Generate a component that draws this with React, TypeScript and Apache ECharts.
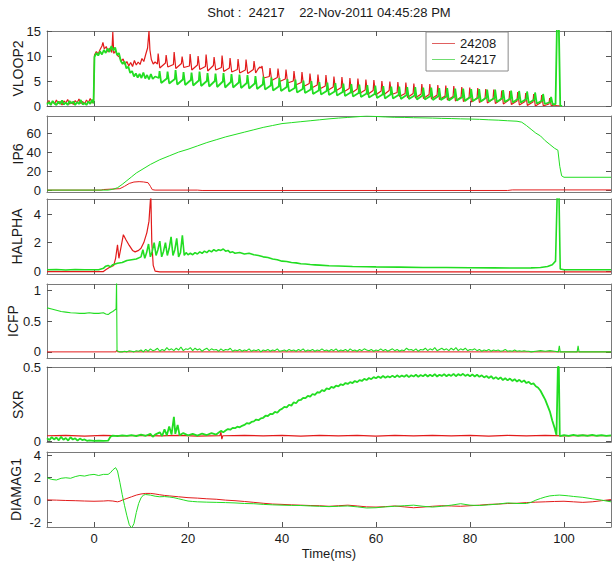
import React, { useEffect, useRef } from 'react';
import * as echarts from 'echarts';

// ---- shot labels and tick labels ----
const shots = ['24208', '24217'];
const timeTicks = [0, 20, 40, 60, 80, 100];
const vloopTicks = [0, 5, 10, 15];
const ip6Ticks = [0, 20, 40, 60];
const halphaTicks = [0, 2, 4];
const icfpTicks = [0, 0.5, 1];
const sxrTicks = [0, 0.5];
const diamagTicks = [-2, 0, 2, 4];

type Pt = [number, number];

// ---- VLOOP2 [time ms, V] ----
const vloop2Shot24208: Pt[] = [
  [-10,0.6],[-9.6,1.1],[-9.2,0.3],[-8.8,0.9],[-8.4,0.4],[-8,1.2],[-7.6,0.5],[-7.2,0.9],[-6.8,0.2],[-6.4,1.0],
  [-6,0.6],[-5.6,1.3],[-5.2,0.4],[-4.8,0.8],[-4.4,0.3],[-4,1.1],[-3.6,0.6],[-3.2,1.4],[-2.8,0.5],[-2.4,0.9],
  [-2,0.4],[-1.6,1.2],[-1.2,0.7],[-0.8,1.5],[-0.4,0.6],[-0.1,1.0],
  [0.1,10.2],[0.5,10.9],[0.9,10.4],[1.3,11.3],[1.7,12.0],[1.9,12.7],[2.2,11.4],[2.6,11.9],[3.0,10.8],[3.4,11.6],
  [3.8,10.7],[4.0,14.8],[4.2,10.5],[4.6,11.0],[5.0,10.1],[5.4,9.8],[5.8,9.0],[6.2,9.4],[6.6,8.3],[7.0,8.9],
  [7.4,8.0],[7.8,8.7],[8.2,7.9],[8.6,9.1],[9.0,8.2],[9.4,8.8],[9.8,8.3],[10.2,9.5],[10.6,8.9],[11.0,10.3],
  [11.4,11.6],[11.7,15.0],[11.9,11.2],[12.2,9.3],[12.6,8.4],[13.0,8.8],
  [13.5,8.4],[13.65,10.5],[14.0,7.6],[15.2,8.6],[15.35,10.2],[15.7,7.8],[16.9,8.3],[17.05,10.8],[17.4,7.5],
  [18.6,8.5],[18.75,9.9],[19.1,7.7],[20.3,8.0],[20.45,10.4],[20.8,7.2],[22.0,8.2],[22.15,10.0],[22.5,7.3],
  [23.7,7.9],[23.85,10.3],[24.2,7.0],[25.4,8.1],[25.55,9.8],[25.9,7.2],[27.1,7.7],[27.25,10.1],[27.6,6.9],
  [28.8,7.6],[28.95,9.6],[29.3,6.8],[30.5,7.3],[30.65,9.4],[31.0,6.6],[32.2,7.2],[32.35,9.3],[32.7,6.5],
  [33.9,7.3],[34.05,9.0],[34.4,6.6],[34.9,7.4],[35.3,7.8],[35.6,7.6],[35.75,8.0],[36.1,5.6],
  [37.3,5.9],[37.45,7.6],[37.8,5.1],[39.0,5.7],[39.15,7.5],[39.5,4.9],[40.7,5.4],[40.85,7.3],[41.2,4.6],
  [42.4,5.0],[42.55,7.0],[42.9,4.2],[44.1,4.7],[44.25,6.8],[44.6,3.9],[45.8,4.5],[45.95,6.5],[46.3,3.6],
  [47.5,4.2],[47.65,6.3],[48.0,3.4],[49.2,4.0],[49.35,6.2],[49.7,3.1],[50.9,3.8],[51.05,5.9],[51.4,3.0],
  [52.6,3.7],[52.75,5.8],[53.1,2.8],[54.3,3.5],[54.45,5.6],[54.8,2.6],[56.0,3.4],[56.15,5.5],[56.5,2.5],
  [57.7,3.2],[57.85,5.3],[58.2,2.3],[59.4,3.1],[59.55,5.2],[59.9,2.2],[61.1,3.0],[61.25,5.0],[61.6,2.2],
  [62.8,3.1],[62.95,4.9],[63.3,2.3],[64.5,2.7],[64.65,4.8],[65.0,1.9],[66.2,2.5],[66.35,4.7],[66.7,1.7],
  [67.9,2.5],[68.05,4.5],[68.4,1.6],[69.6,2.4],[69.75,4.4],[70.1,1.5],[71.3,2.3],[71.45,4.4],[71.8,1.4],
  [73.0,2.2],[73.15,4.2],[73.5,1.3],[74.7,2.0],[74.85,4.1],[75.2,1.2],[76.4,1.9],[76.55,4.0],[76.9,1.0],
  [78.1,1.8],[78.25,3.8],[78.6,0.9],[79.8,1.7],[79.95,3.7],[80.3,0.8],[81.5,1.6],[81.65,3.6],[82.0,0.7],
  [83.2,1.5],[83.35,3.4],[83.7,0.6],[84.9,1.4],[85.05,3.3],[85.4,0.5],[86.6,1.3],[86.75,3.1],[87.1,0.4],
  [88.3,1.2],[88.45,3.0],[88.8,0.3],[90.0,1.0],[90.15,2.8],[90.5,0.2],[91.7,0.9],[91.85,2.6],[92.2,0.1],
  [93.4,0.8],[93.55,2.4],[93.9,0.0],[95.1,0.7],[95.25,2.2],[95.6,0.0],[96.8,0.4],[96.95,1.6],[97.3,0.0],
  [97.8,0.2],[98.4,0.1],[99.2,0.0],
];
const vloop2Shot24217: Pt[] = [
  [-10,0.3],[-9.6,0.8],[-9.2,0.2],[-8.8,1.0],[-8.4,0.5],[-8,0.2],[-7.6,0.9],[-7.2,0.4],[-6.8,1.1],[-6.4,0.3],
  [-6,0.7],[-5.6,0.2],[-5.2,1.0],[-4.8,0.5],[-4.4,0.9],[-4,0.2],[-3.6,0.8],[-3.2,0.4],[-2.8,1.2],[-2.4,0.3],
  [-2,0.6],[-1.6,0.2],[-1.2,0.9],[-0.8,0.4],[-0.4,1.3],[-0.1,0.5],
  [0.1,9.8],[0.5,10.6],[0.9,10.1],[1.3,10.9],[1.7,10.3],[2.1,11.2],[2.5,10.6],[2.9,11.5],[3.3,10.8],[3.7,12.0],
  [4.1,11.1],[4.5,11.7],[4.9,10.2],[5.3,10.6],[5.7,9.0],[6.1,8.4],[6.5,8.9],[6.9,7.5],[7.3,7.9],[7.7,6.6],
  [8.1,7.0],[8.5,5.9],[8.9,6.5],[9.3,5.7],[9.7,6.4],[10.1,5.6],[10.5,6.7],[10.9,5.5],[11.3,6.2],[11.7,5.3],
  [12.1,6.4],[12.5,5.4],[13.0,5.9],
  [13.8,5.6],[13.95,7.0],[14.3,4.6],[15.5,5.5],[15.65,6.9],[16.0,4.5],[17.2,5.4],[17.35,7.2],[17.7,4.3],
  [18.9,5.3],[19.05,6.8],[19.4,4.2],[20.6,5.2],[20.75,6.7],[21.1,4.1],[22.3,5.1],[22.45,6.9],[22.8,4.0],
  [24.0,5.0],[24.15,6.6],[24.5,3.9],[25.7,5.0],[25.85,6.5],[26.2,3.8],[27.4,4.9],[27.55,6.6],[27.9,3.7],
  [29.1,4.8],[29.25,6.4],[29.6,3.7],[30.8,4.7],[30.95,6.3],[31.3,3.6],[32.5,4.6],[32.65,6.2],[33.0,3.5],
  [34.2,4.5],[34.35,6.0],[34.7,3.4],[35.9,4.3],[36.05,5.9],[36.4,3.3],[37.6,4.1],[37.75,5.7],[38.1,3.1],
  [39.3,3.9],[39.45,5.6],[39.8,3.0],[41.0,3.8],[41.15,5.4],[41.5,2.9],[42.7,3.6],[42.85,5.3],[43.2,2.7],
  [44.4,3.4],[44.55,5.1],[44.9,2.6],[46.1,3.3],[46.25,5.0],[46.6,2.4],[47.8,3.1],[47.95,4.8],[48.3,2.3],
  [49.5,3.0],[49.65,4.7],[50.0,2.2],[51.2,2.9],[51.35,4.6],[51.7,2.1],[52.9,2.8],[53.05,4.5],[53.4,2.0],
  [54.6,2.7],[54.75,4.4],[55.1,1.9],[56.3,2.6],[56.45,4.3],[56.8,1.8],[58.0,2.5],[58.15,4.2],[58.5,1.7],
  [59.7,2.4],[59.85,4.1],[60.2,1.6],[61.4,2.3],[61.55,4.0],[61.9,1.5],[63.1,2.3],[63.25,3.9],[63.6,1.5],
  [64.8,2.2],[64.95,3.9],[65.3,1.4],[66.5,2.2],[66.65,3.8],[67.0,1.4],[68.2,2.1],[68.35,3.8],[68.7,1.3],
  [69.9,2.1],[70.05,3.7],[70.4,1.3],[71.6,2.0],[71.75,3.7],[72.1,1.2],[73.3,2.0],[73.45,3.6],[73.8,1.2],
  [75.0,1.9],[75.15,3.6],[75.5,1.1],[76.7,1.9],[76.85,3.5],[77.2,1.1],[78.4,1.8],[78.55,3.5],[78.9,1.0],
  [80.1,1.8],[80.25,3.4],[80.6,1.0],[81.8,1.7],[81.95,3.4],[82.3,0.9],[83.5,1.7],[83.65,3.3],[84.0,0.9],
  [85.2,1.6],[85.35,3.3],[85.7,0.8],[86.9,1.6],[87.05,3.2],[87.4,0.8],[88.6,1.5],[88.75,3.1],[89.1,0.7],
  [90.3,1.5],[90.45,3.0],[90.8,0.7],[92.0,1.4],[92.15,2.9],[92.5,0.6],[93.7,1.3],[93.85,2.7],[94.2,0.5],
  [95.4,1.1],[95.55,2.4],[95.9,0.4],[97.1,0.8],[97.25,1.8],[97.6,0.3],
  [98.2,0.4],[98.5,16],[98.9,16],[99.2,0.1],[99.6,0],
];

// ---- IP6 [time ms, kA] ----
const ip6Shot24208: Pt[] = [
  [-10,0],[1.5,0],[2,0.6],[5.5,1.5],[6.5,4],[7.5,7],[8.5,8.5],[9.6,8.9],[10.5,8.6],[11.5,7.8],
  [12,4],[12.4,0.5],[13,0],[22,0],[23,-0.4],[88,-0.4],[89,0.2],[110,0.2],
];
const ip6Shot24217: Pt[] = [
  [-10,0],[3,0],[4,0.8],[5,2.5],[6,6],[7,10],[8,14],[9,18],[10,21],[12,27],[14,32],[16,36],[18,40],
  [20,43],[22,46.5],[24,50],[26,53],[28,56],[30,58.5],[32,61],[34,63.5],[36,66],[38,68],[40,70],
  [42,71],[44,72],[46,73],[48,74],[50,75],[52,75.8],[54,76.5],[56,77.2],[58,78],[60,77.5],[62,77],
  [64,76.6],[66,76.5],[68,76.2],[70,76],[72,75.8],[74,75.5],[76,75.3],[78,75],[80,74.8],[82,74.5],
  [84,74],[86,73.6],[88,73],[90,72.5],[91,71.5],[92,68],[93,64],[94,60],[95,57],[96,52],[97,48],
  [98,44],[98.7,42],[99.1,25],[99.5,15],[100,13.5],[110,13.5],
];

// ---- HALPHA [time ms, a.u.] ----
const halphaShot24208: Pt[] = [
  [-10,-0.03],[2,-0.03],[2.5,0.1],[3.5,0.3],[4.2,0.4],[4.6,0.9],[5.0,1.85],[5.3,0.9],[5.7,1.6],[6.25,2.55],
  [6.8,2.2],[7.5,1.8],[8.2,1.45],[8.75,1.35],[9.5,1.45],[10,1.6],[10.6,2.0],[11.25,2.7],[11.7,3.5],[12.0,5.0],
  [12.1,5.2],[12.3,2.0],[12.6,0.4],[13,0.0],[14,-0.05],[110,-0.05],
];
const halphaShot24217: Pt[] = [
  [-10,0.1],[-8,0.12],[-6,0.08],[-4,0.12],[-2,0.1],[0,0.1],[1,0.1],[2,0.2],[2.5,0.35],[3,0.4],[3.5,0.3],
  [4,0.45],[5,0.55],[6,0.6],[7,0.75],[8,0.8],[9,0.85],[10,1.0],[10.4,1.5],[10.8,0.9],[11.2,1.3],[11.6,1.9],
  [12.0,1.0],[12.4,1.4],[12.8,2.0],[13.2,1.1],[13.6,1.5],[14.0,2.1],[14.4,1.0],[14.8,1.4],[15.2,2.0],
  [15.6,1.1],[16.0,1.6],[16.4,2.4],[16.8,1.1],[17.2,1.5],[17.6,2.3],[18.0,1.0],[18.4,1.3],[18.8,2.5],
  [19.2,1.1],[19.6,1.3],[20,1.15],[20.5,1.25],[21,1.15],[21.5,1.3],[22,1.2],[22.5,1.35],[23,1.25],
  [23.5,1.4],[24,1.3],[24.5,1.45],[25,1.35],[25.5,1.5],[26,1.4],[26.5,1.5],[27,1.45],[27.5,1.55],[28,1.4],
  [28.5,1.45],[29,1.3],[29.5,1.35],[30,1.25],[31,1.3],[32,1.2],[33,1.25],[34,1.15],[35,1.1],[36,1.0],
  [37,0.95],[38,0.85],[39,0.8],[40,0.7],[41,0.68],[42,0.6],[43,0.58],[44,0.52],[45,0.5],[46,0.46],
  [47,0.44],[48,0.42],[50,0.38],[52,0.36],[55,0.33],[58,0.31],[60,0.3],[65,0.28],[70,0.26],[75,0.25],
  [80,0.24],[85,0.23],[90,0.22],[93,0.23],[95,0.26],[96.5,0.32],[97.5,0.45],[98.2,0.7],[98.6,6],[98.9,6],
  [99.2,0.15],[100,0.1],[110,0.1],
];

// ---- ICFP [time ms, a.u.] ----
const icfpShot24208: Pt[] = [[-10,0],[4.7,0],[4.8,0.03],[5,0],[110,0]];
const icfpShot24217Head: Pt[] = [
  [-10,0.72],[-9,0.7],[-8,0.68],[-7,0.66],[-6,0.65],[-5,0.64],[-4,0.635],[-3,0.63],[-2,0.63],[-1,0.64],
  [0,0.63],[1,0.63],[2,0.64],[2.5,0.62],[3,0.61],[3.5,0.64],[4,0.66],[4.5,0.69],[4.7,0.7],[4.8,1.15],
  [4.9,0.02],[5.5,0.0],
];
// fluctuation level sampled every 0.5 ms from 6 ms
const icfpShot24217Start = 6;
const icfpShot24217Step = 0.5;
const icfpShot24217Samples = [
  0.00,0.01,0.00,0.02,0.01,0.00,0.02,0.01,0.03,0.00,
  0.04,0.01,0.05,0.02,0.03,0.06,0.01,0.04,0.02,0.07,
  0.03,0.05,0.02,0.06,0.03,0.08,0.02,0.05,0.04,0.07,
  0.02,0.06,0.03,0.05,0.01,0.04,0.06,0.02,0.05,0.03,
  0.04,0.01,0.05,0.02,0.04,0.03,0.06,0.01,0.03,0.02,
  0.04,0.01,0.03,0.02,0.05,0.01,0.03,0.02,0.04,0.00,
  0.03,0.02,0.04,0.01,0.03,0.02,0.05,0.01,0.02,0.03,
  0.01,0.04,0.02,0.03,0.01,0.04,0.02,0.05,0.01,0.03,
  0.02,0.04,0.01,0.03,0.02,0.05,0.02,0.03,0.01,0.04,
  0.02,0.05,0.01,0.03,0.02,0.04,0.01,0.05,0.02,0.03,
  0.01,0.04,0.02,0.05,0.03,0.02,0.04,0.01,0.03,0.02,
  0.05,0.02,0.04,0.01,0.03,0.05,0.02,0.04,0.01,0.03,
  0.02,0.06,0.03,0.04,0.02,0.05,0.01,0.04,0.03,0.06,
  0.02,0.05,0.03,0.07,0.02,0.04,0.06,0.03,0.05,0.02,
  0.06,0.03,0.07,0.02,0.05,0.03,0.06,0.02,0.04,0.03,
  0.05,0.02,0.04,0.01,0.03,0.02,0.04,0.01,0.03,0.02,
  0.03,0.01,0.02,0.04,0.01,0.02,0.01,0.03,0.01,0.02,
  0.01,0.02,0.01,0.01,0.00,
];
const icfpShot24217Tail: Pt[] = [
  [94,0.01],[95,0.02],[96,0.01],[97,0.02],[98,0.01],[98.8,0.0],[99,0.1],[99.2,0.0],
  [102.8,0.0],[103,0.1],[103.2,0.0],[110,0.0],
];

// ---- SXR [time ms, a.u.] ----
const sxrShot24208: Pt[] = [
  [-10,0.037],[-6,0.04],[-2,0.035],[2,0.039],[6,0.036],[10,0.04],[14,0.036],[18,0.039],[22,0.035],
  [26.8,0.038],[27,0.062],[27.2,0.014],[27.4,0.037],[32,0.04],[36,0.036],[40,0.039],[44,0.035],
  [48,0.04],[52,0.036],[56,0.039],[60,0.035],[64,0.039],[68,0.036],[72,0.04],[76,0.036],[80,0.039],
  [84,0.035],[88,0.039],[92,0.036],[96,0.04],[100,0.036],[104,0.039],[110,0.037],
];
const sxrShot24217Head: Pt[] = [
  [-10,0.02],[-9.5,0.008],[-9,0.028],[-8.5,0.012],[-8,0.025],[-7.5,0.006],[-7,0.03],[-6.5,0.01],
  [-6,0.022],[-5.5,0.005],[-5,0.027],[-4.5,0.012],[-4,0.02],[-3.5,0.004],[-3,0.018],[-2.5,0.008],
  [-2,0.012],[-1.5,0.003],[-1,0.006],[0,0.003],[1,0.004],[2,0.002],[3,0.004],[3.5,0.03],[4,0.038],
  [5,0.034],[6,0.04],[7,0.036],[8,0.042],[9,0.035],[10,0.044],[11,0.037],[12,0.05],[12.5,0.03],
  [13,0.045],[14,0.06],[14.5,0.035],[15,0.08],[15.5,0.04],[16,0.1],[16.5,0.045],[17,0.165],[17.3,0.05],
  [17.8,0.11],[18.2,0.04],[19,0.055],[20,0.04],[21,0.05],[22,0.038],[23,0.052],[24,0.042],[25,0.055],
  [26,0.045],[27,0.07],[27.5,0.06],
];
// emission level sampled every 0.5 ms from 28 ms
const sxrShot24217Start = 28;
const sxrShot24217Step = 0.5;
const sxrShot24217Samples = [
  0.072,0.082,0.078,0.09,0.088,0.098,0.094,0.104,
  0.11,0.122,0.118,0.13,0.134,0.146,0.142,0.154,
  0.158,0.172,0.17,0.184,0.182,0.198,0.192,0.21,
  0.218,0.232,0.228,0.246,0.24,0.262,0.256,0.276,
  0.278,0.292,0.29,0.306,0.3,0.318,0.312,0.33,
  0.328,0.344,0.338,0.356,0.35,0.366,0.36,0.374,
  0.37,0.384,0.378,0.392,0.386,0.398,0.392,0.406,
  0.398,0.412,0.406,0.42,0.412,0.426,0.418,0.432,
  0.424,0.436,0.426,0.44,0.428,0.438,0.43,0.442,
  0.43,0.444,0.432,0.442,0.434,0.446,0.432,0.444,
  0.436,0.448,0.434,0.446,0.438,0.45,0.436,0.448,
  0.438,0.452,0.436,0.448,0.44,0.452,0.438,0.45,
  0.44,0.454,0.438,0.452,0.442,0.454,0.44,0.45,
  0.438,0.45,0.436,0.448,0.434,0.444,0.43,0.44,
  0.426,0.438,0.42,0.432,0.418,0.43,0.412,0.424,
  0.41,0.422,0.406,0.418,0.402,0.414,0.398,0.41,
  0.392,0.4,0.384,0.39,0.37,0.36,
];
const sxrShot24217Tail: Pt[] = [
  [95,0.34],[95.5,0.31],[96,0.28],[96.5,0.24],[97,0.2],[97.5,0.14],[98,0.09],[98.4,0.04],[98.7,0.5],
  [98.9,0.5],[99.1,0.035],[100,0.042],[101,0.036],[102,0.043],[103,0.037],[104,0.042],[105,0.036],
  [106,0.043],[107,0.037],[108,0.042],[109,0.036],[110,0.04],
];

// ---- DIAMAG1 [time ms, a.u.] ----
const diamagShot24208: Pt[] = [
  [-10,0.02],[-8,0.0],[-6,-0.03],[-4,-0.05],[-2,-0.08],[0,-0.1],[2,-0.08],[3,-0.05],[4,-0.08],[5,-0.15],
  [5.5,-0.1],[6,0.0],[7,0.15],[8,0.3],[9,0.45],[10,0.55],[11,0.6],[12,0.6],[13,0.55],[14,0.48],[15,0.42],
  [16,0.38],[18,0.3],[20,0.22],[22,0.18],[24,0.12],[26,0.08],[28,0.0],[30,-0.05],[32,-0.12],[34,-0.2],
  [36,-0.28],[38,-0.35],[40,-0.38],[42,-0.42],[44,-0.45],[46,-0.48],[48,-0.5],[50,-0.55],[52,-0.5],
  [54,-0.45],[56,-0.52],[58,-0.6],[60,-0.62],[62,-0.58],[64,-0.52],[66,-0.6],[68,-0.68],[70,-0.62],
  [72,-0.55],[74,-0.5],[76,-0.52],[78,-0.55],[80,-0.5],[82,-0.45],[84,-0.38],[86,-0.35],[88,-0.3],
  [90,-0.28],[92,-0.22],[94,-0.18],[96,-0.15],[98,-0.12],[100,-0.1],[102,-0.15],[104,-0.2],[106,-0.15],
  [108,-0.05],[110,0.05],
];
const diamagShot24217: Pt[] = [
  [-10,2.0],[-9,1.85],[-8,1.8],[-7,1.95],[-6,2.0],[-5,1.95],[-4,2.1],[-3,2.2],[-2,2.15],[-1,2.25],[0,2.3],
  [1,2.2],[2,2.3],[3,2.3],[3.5,2.45],[4,2.7],[4.6,2.9],[5,2.6],[5.5,1.6],[6,0.5],[6.5,-0.5],[7,-1.4],
  [7.5,-2.2],[8,-2.5],[8.5,-2.1],[9,-1.1],[9.5,-0.3],[10,0.2],[10.5,0.45],[11,0.5],[12,0.45],[13,0.35],
  [14,0.3],[15,0.32],[16,0.28],[17,0.22],[18,0.12],[19,0.02],[20,-0.08],[21,-0.12],[22,-0.15],[24,-0.18],
  [26,-0.2],[28,-0.22],[30,-0.25],[32,-0.3],[34,-0.32],[36,-0.38],[38,-0.42],[40,-0.45],[42,-0.47],
  [44,-0.48],[46,-0.52],[48,-0.55],[50,-0.58],[52,-0.55],[54,-0.52],[56,-0.6],[58,-0.7],[60,-0.68],
  [62,-0.6],[64,-0.55],[66,-0.5],[68,-0.45],[70,-0.55],[72,-0.62],[74,-0.55],[76,-0.45],[78,-0.32],
  [80,-0.45],[82,-0.48],[84,-0.42],[86,-0.35],[88,-0.25],[90,-0.3],[92,-0.3],[93,-0.2],[94,0.0],[95,0.15],
  [96,0.28],[97,0.38],[98,0.42],[99,0.45],[100,0.42],[101,0.38],[102,0.33],[104,0.25],[106,0.12],
  [108,0.0],[110,-0.15],
];

const sampled = (start: number, step: number, values: number[]): Pt[] =>
  values.map((v, i) => [start + i * step, v] as Pt);

const icfpShot24217: Pt[] = [
  ...icfpShot24217Head,
  ...sampled(icfpShot24217Start, icfpShot24217Step, icfpShot24217Samples),
  ...icfpShot24217Tail,
];
const sxrShot24217: Pt[] = [
  ...sxrShot24217Head,
  ...sampled(sxrShot24217Start, sxrShot24217Step, sxrShot24217Samples),
  ...sxrShot24217Tail,
];

// ---- layout ----
const FONT = '"Liberation Sans", Arial, Helvetica, sans-serif';
const RED = '#e21b1b';
const GREEN = '#22dd22';
const PLOT_LEFT = 47;
const PLOT_RIGHT = 3;
const BOX = '#7a7a7a';
const TEXT = '#1a1a1a';

const panels = [
  { label: 'VLOOP2', labelX: 18, top: 31, height: 75, min: 0, max: 15, ticks: vloopTicks, data: [vloop2Shot24208, vloop2Shot24217], widths: [1.2, 1.8] },
  { label: 'IP6', labelX: 18, top: 116, height: 76, min: -2, max: 78, ticks: ip6Ticks, data: [ip6Shot24208, ip6Shot24217], widths: [1, 1] },
  { label: 'HALPHA', labelX: 17, top: 199, height: 75, min: -0.2, max: 5.05, ticks: halphaTicks, data: [halphaShot24208, halphaShot24217], widths: [1.2, 1.6] },
  { label: 'ICFP', labelX: 13, top: 284, height: 74, min: -0.1, max: 1.11, ticks: icfpTicks, data: [icfpShot24208, icfpShot24217], widths: [1, 1.1] },
  { label: 'SXR', labelX: 18, top: 367, height: 75, min: -0.005, max: 0.5, ticks: sxrTicks, data: [sxrShot24208, sxrShot24217], widths: [1.2, 1.8] },
  { label: 'DIAMAG1', labelX: 16, top: 452, height: 75, min: -2.4, max: 4.3, ticks: diamagTicks, data: [diamagShot24208, diamagShot24217], widths: [1, 1] },
];

function buildOption() {
  const grid: any[] = [];
  const xAxis: any[] = [];
  const yAxis: any[] = [];
  const series: any[] = [];
  const graphic: any[] = [];
  const last = panels.length - 1;

  panels.forEach((p, i) => {
    grid.push({ left: PLOT_LEFT, right: PLOT_RIGHT, top: p.top, height: p.height, containLabel: false });
    const line = { show: true, onZero: false, lineStyle: { color: BOX, width: 1 } };
    const tick = (vals: number[]) => ({ show: true, inside: true, length: 5, customValues: vals, lineStyle: { color: '#555', width: 1 } });
    xAxis.push({
      type: 'value', gridIndex: i, position: 'bottom', min: -10, max: 110,
      axisLine: line, axisTick: tick(timeTicks), splitLine: { show: false },
      axisLabel: { show: i === last, customValues: timeTicks, margin: 5, fontSize: 13, fontFamily: FONT, color: TEXT },
    });
    xAxis.push({
      type: 'value', gridIndex: i, position: 'top', min: -10, max: 110,
      axisLine: line, axisTick: tick(timeTicks), splitLine: { show: false }, axisLabel: { show: false },
    });
    yAxis.push({
      type: 'value', gridIndex: i, position: 'left', min: p.min, max: p.max,
      axisLine: line, axisTick: tick(p.ticks), splitLine: { show: false },
      axisLabel: { customValues: p.ticks, margin: 6, fontSize: 13, fontFamily: FONT, color: TEXT },
    });
    yAxis.push({
      type: 'value', gridIndex: i, position: 'right', min: p.min, max: p.max,
      axisLine: line, axisTick: tick(p.ticks), splitLine: { show: false }, axisLabel: { show: false },
    });
    p.data.forEach((d, k) => {
      series.push({
        type: 'line', name: shots[k], xAxisIndex: 2 * i, yAxisIndex: 2 * i,
        data: d, symbol: 'none', clip: true, silent: true,
        lineStyle: { color: k === 0 ? RED : GREEN, width: p.widths[k] },
        itemStyle: { color: k === 0 ? RED : GREEN },
        z: 2 + k,
      });
    });
    graphic.push({
      type: 'text', x: p.labelX, y: p.top + p.height / 2, rotation: Math.PI / 2,
      style: { text: p.label, fontSize: 14, fontFamily: FONT, fill: TEXT, align: 'center', verticalAlign: 'middle' },
    });
  });

  graphic.push({
    type: 'text', x: PLOT_LEFT + (614 - PLOT_LEFT - PLOT_RIGHT) / 2, y: 12,
    style: { text: 'Shot :  24217    22-Nov-2011 04:45:28 PM', fontSize: 13, fontFamily: FONT, fill: TEXT, align: 'center', verticalAlign: 'middle' },
  });
  graphic.push({
    type: 'text', x: PLOT_LEFT + (614 - PLOT_LEFT - PLOT_RIGHT) / 2, y: 553,
    style: { text: 'Time(ms)', fontSize: 13, fontFamily: FONT, fill: TEXT, align: 'center', verticalAlign: 'middle' },
  });

  return {
    animation: false,
    backgroundColor: '#ffffff',
    grid, xAxis, yAxis, series, graphic,
    legend: {
      data: shots.map((name, k) => ({ name, icon: 'rect', itemStyle: { color: k === 0 ? '#e06060' : '#70dd70' } })),
      orient: 'vertical', left: 426, top: 32,
      itemWidth: 23, itemHeight: 1, itemGap: 3, padding: [5, 12, 5, 6],
      borderColor: '#8a8a8a', borderWidth: 1, backgroundColor: '#ffffff',
      selectedMode: false,
      textStyle: { fontSize: 13, fontFamily: FONT, color: TEXT, padding: [0, 0, 0, 0] },
    },
  };
}

export default function App() {
  const ref = useRef<HTMLDivElement>(null);
  useEffect(() => {
    if (!ref.current) return;
    const chart = echarts.init(ref.current, null, { renderer: 'svg' });
    chart.setOption(buildOption() as any);
    return () => chart.dispose();
  }, []);
  return (
    <div
      ref={ref}
      style={{ position: 'absolute', left: 0, top: 0, width: 614, height: 566, background: '#fff' }}
    />
  );
}
